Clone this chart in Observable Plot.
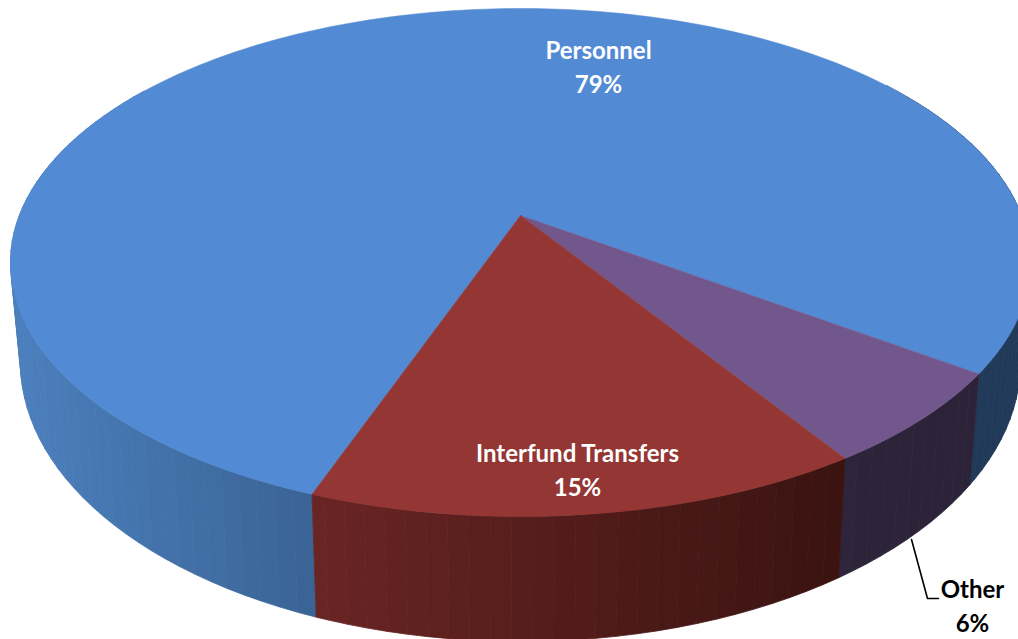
<!DOCTYPE html>
<html>
<head>
<meta charset="utf-8">
<script src="https://cdn.jsdelivr.net/npm/d3@7"></script>
<script src="https://cdn.jsdelivr.net/npm/@observablehq/plot@0.6"></script>
<style>
html,body{margin:0;padding:0;background:#fff;overflow:hidden}
svg{display:block}
</style>
</head>
<body>
<div id="chart"></div>
<script>
// Data: shares clockwise from the Personnel slice (labels show them rounded)
const categories = ["Personnel", "Other", "Interfund Transfers"];
const shares = [79.2, 6.0, 14.8];

// Styles
const topColors = ["#528AD4", "#72578C", "#933634"];
const wallStops = [
  {domain: [15, 318, 968, 1018], range: ["#4C80BE", "#3A6394", "#213A59", "#213A59"]},
  {domain: [836, 968], range: ["#2E243B", "#2C2338"]},
  {domain: [318, 836], range: ["#692523", "#3A1311"]}
];
const labelColors = ["#ffffff", "#000000", "#ffffff"];

// Layout of the tilted disc (picture space)
const W = 1018, H = 639;
const topRim = {cx: 520, cy: 262, rx: 510, ry: 254};
const bottomRim = {cx: 520, cy: 362, rx: 500, ry: 279};
const tilt = -0.185;               // perspective shift of the disc centre
const startAngle = 110.1;          // where Personnel begins, degrees clockwise from east
const wallStep = 2;                // degrees per wall band
const labelAnchors = [[598, 65], [972, 604], [577, 468]];
const leaderPath = [[911, 539], [927, 598], [938, 598]];

const rad = Math.PI / 180;
function project(deg, rim, r = 1) {
  const X = r * Math.cos(deg * rad), Y = r * Math.sin(deg * rad);
  const k = 1 + tilt * Y;
  const u = X * Math.sqrt(1 - tilt * tilt) / k;
  const v = (Y + tilt) / k;
  return {x: rim.cx + rim.rx * u, y: rim.cy + rim.ry * v};
}

// Slice angular extents from the shares
const total = d3.sum(shares);
let cursor = startAngle;
const slices = categories.map((name, i) => {
  const a0 = cursor, a1 = cursor + shares[i] / total * 360;
  cursor = a1;
  return {name, share: shares[i], a0, a1, i};
});

// Top face polygons (closed rings)
const topPoints = slices.flatMap(s => {
  const pts = [{...project(0, topRim, 0), id: s.name, fill: topColors[s.i]}];
  for (let a = s.a0; ; a += 1) {
    const t = Math.min(a, s.a1);
    pts.push({...project(t, topRim), id: s.name, fill: topColors[s.i]});
    if (a >= s.a1) break;
  }
  pts.push({...pts[0]});
  return pts;
});

// Side wall bands, each shaded by its horizontal position
const wallPoints = [];
slices.forEach(s => {
  const shade = d3.scaleLinear().domain(wallStops[s.i].domain).range(wallStops[s.i].range).clamp(true);
  for (let a = s.a0; a < s.a1; a += wallStep) {
    const b = Math.min(a + wallStep, s.a1);
    const mid = (a + b) / 2;
    const m = ((mid % 360) + 360) % 360;
    if (m > 215 && m < 325) continue;   // hidden back side
    const id = s.name + a;
    const fill = shade(project(mid, bottomRim).x);
    [project(a, topRim), project(b, topRim), project(b, bottomRim), project(a, bottomRim), project(a, topRim)]
      .forEach(p => wallPoints.push({...p, id, fill}));
  }
});

const labels = slices.map(s => ({
  text: `${s.name}\n${Math.round(s.share)}%`,
  x: labelAnchors[s.i][0], y: labelAnchors[s.i][1], fill: labelColors[s.i]
}));
const leader = leaderPath.map(([x, y]) => ({x, y}));

const poly = (data, sw) => Plot.line(data, {
  x: "x", y: "y", z: "id", fill: "fill", stroke: "fill", strokeWidth: sw, strokeLinejoin: "round"
});

const chart = Plot.plot({
  width: W, height: H, margin: 0,
  x: {domain: [0, W], axis: null},
  y: {domain: [H, 0], axis: null},
  color: {type: "identity"},
  style: {background: "#fff"},
  marks: [
    poly(wallPoints, 0.8),
    poly(topPoints, 0.5),
    Plot.line(leader, {x: "x", y: "y", stroke: "#000", strokeWidth: 1.6}),
    Plot.text(labels, {
      x: "x", y: "y", text: "text", fill: "fill",
      fontFamily: "Lato", fontWeight: 700, fontSize: 24, lineHeight: 1.4, textAnchor: "middle"
    })
  ]
});
document.getElementById("chart").append(chart);
</script>
</body>
</html>
